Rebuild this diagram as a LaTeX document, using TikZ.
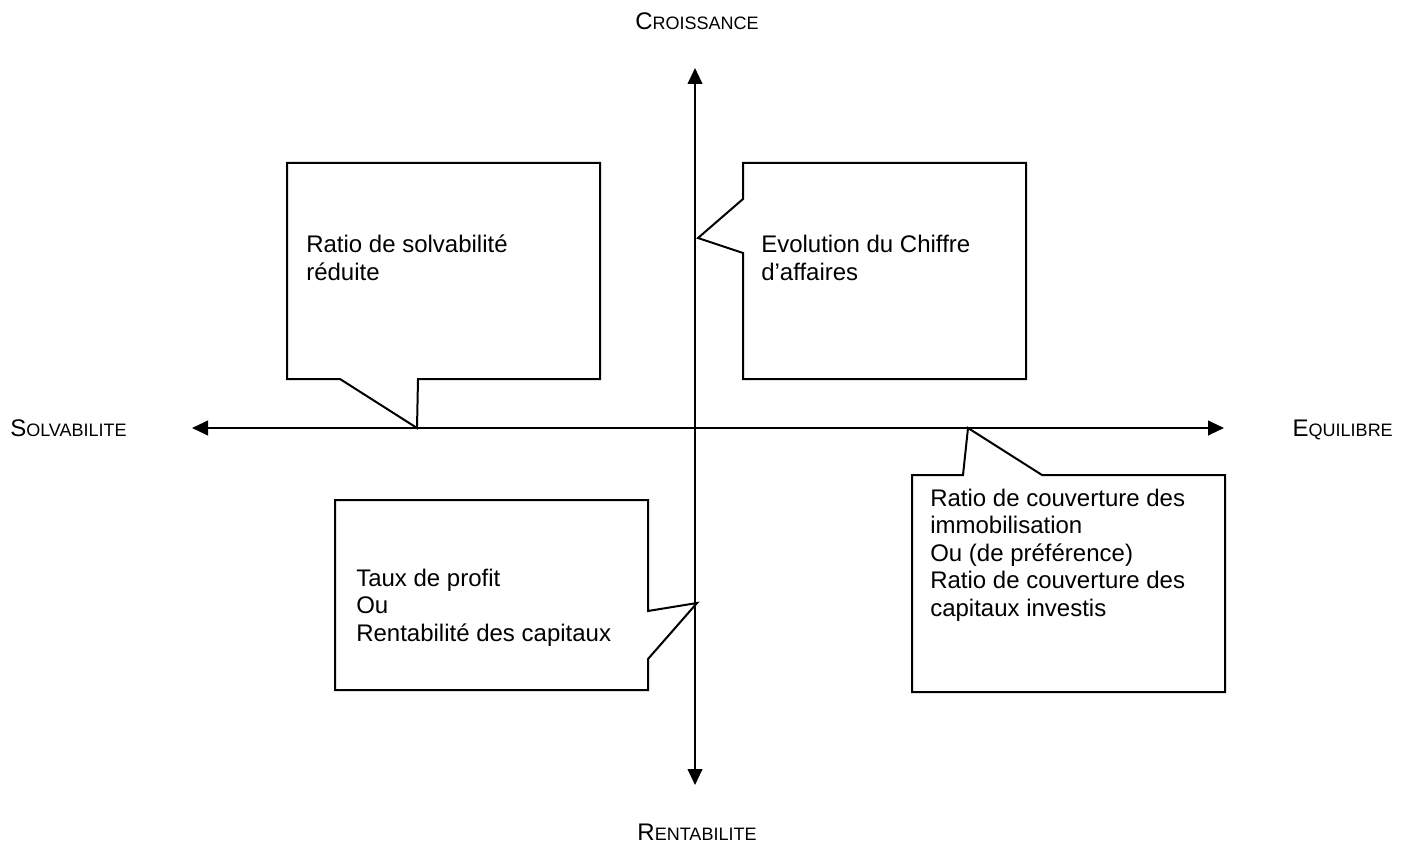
\documentclass[tikz,border=0pt]{standalone}
\usepackage{fontspec}
\setmainfont{Liberation Sans}
\usetikzlibrary{arrows.meta}

% petites capitales "a la Word"
\newcommand{\petitecap}[2]{#1{\fontsize{13.5}{16}\selectfont #2}}

\begin{document}
\begin{tikzpicture}[
    x=0.75pt, y=-0.75pt,
    axe/.style = {
        line width=1.5pt,
        {Triangle[length=12pt,width=11pt]}-{Triangle[length=12pt,width=11pt]}
    },
    bulle/.style = {
        line width=1.5pt,
        line join=miter
    },
    texte/.style = {
        anchor=base west,
        inner sep=0pt,
        align=left,
        font=\fontsize{18}{20.6}\selectfont
    },
    titre/.style = {
        inner sep=0pt,
        font=\fontsize{18}{20}\selectfont
    }
]
\useasboundingbox (0,0) rectangle (1409,845);

% --- Axes ---
\coordinate (ouest) at (192,428);
\coordinate (est) at (1224,428);
\coordinate (nord) at (695,68);
\coordinate (sud) at (695,785);

\draw[axe] (ouest) -- (est);
\draw[axe] (sud) -- (nord);

% --- Titres des axes ---
\node[titre, anchor=base] (croissance) at (697,30) {\petitecap{C}{ROISSANCE}};
\node[titre, anchor=base] (rentabilite) at (697,840) {\petitecap{R}{ENTABILITE}};
\node[titre, anchor=base west] (solvabilite) at (10,436) {\petitecap{S}{OLVABILITE}};
\node[titre, anchor=base east] (equilibre) at (1393,436) {\petitecap{E}{QUILIBRE}};

% --- Pointes des bulles ---
\coordinate (pointeSolv) at (417,428);
\coordinate (pointeCrois) at (698,238);
\coordinate (pointeRent) at (697,603);
\coordinate (pointeEquil) at (968,428);

% --- Bulles ---
\draw[bulle] (287,163) -- (600,163) -- (600,379) -- (418,379)
    -- (pointeSolv) -- (340,379) -- (287,379) -- cycle;

\draw[bulle] (743,163) -- (1026,163) -- (1026,379) -- (743,379)
    -- (743,253) -- (pointeCrois) -- (743,199) -- cycle;

\draw[bulle] (335,500) -- (648,500) -- (648,611) -- (pointeRent)
    -- (648,659) -- (648,690) -- (335,690) -- cycle;

\draw[bulle] (912,475) -- (963,475) -- (pointeEquil) -- (1042,475)
    -- (1225,475) -- (1225,692) -- (912,692) -- cycle;

% --- Textes (ancre sur la derniere ligne) ---
\node[texte] (solv) at (306,280) {Ratio de solvabilité\\réduite};
\node[texte] (crois) at (761,280) {Evolution du Chiffre\\d’affaires};
\node[texte] (rent) at (356,641) {Taux de profit\\Ou\\Rentabilité des capitaux};
\node[texte] (equil) at (930,616) {Ratio de couverture des\\immobilisation\\Ou (de préférence)\\Ratio de couverture des\\capitaux investis};

\end{tikzpicture}
\end{document}
